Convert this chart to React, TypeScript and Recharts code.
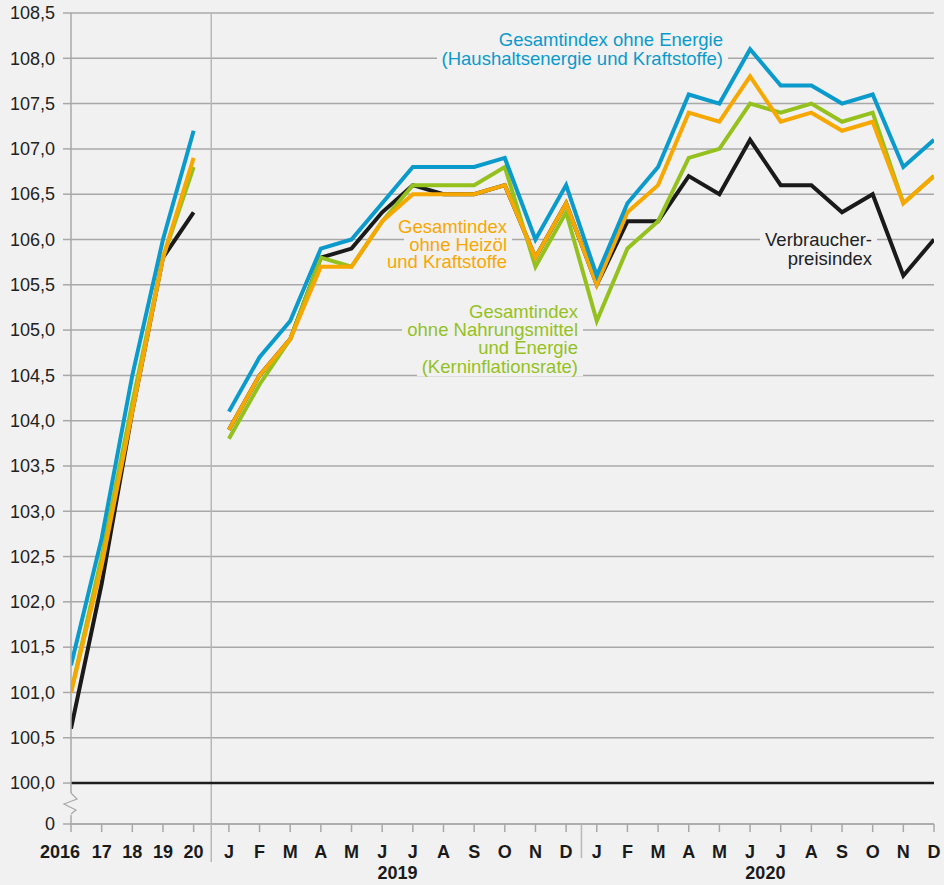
import React from "react";
import { CartesianGrid, Line, LineChart, ReferenceLine, XAxis, YAxis } from "recharts";

const years = ["2016", "17", "18", "19", "20"];
const months = ["J", "F", "M", "A", "M", "J", "J", "A", "S", "O", "N", "D"];
const monthYears = ["2019", "2020"];

// Jahresdurchschnitte 2016-2020
const vpiYear = [100.6, 102.2, 104.1, 105.8, 106.3];
const kernYear = [101.0, 102.5, 104.2, 105.8, 106.8];
const heizYear = [101.0, 102.4, 104.1, 105.8, 106.9];
const energieYear = [101.3, 102.7, 104.5, 106.0, 107.2];

// Monatswerte Jan 2019 - Dez 2020
const vpiMonth = [
  103.9, 104.5, 104.9, 105.8, 105.9, 106.3, 106.6, 106.5, 106.5, 106.6, 105.8, 106.4,
  105.5, 106.2, 106.2, 106.7, 106.5, 107.1, 106.6, 106.6, 106.3, 106.5, 105.6, 106.0,
];
const kernMonth = [
  103.8, 104.4, 104.9, 105.8, 105.7, 106.2, 106.6, 106.6, 106.6, 106.8, 105.7, 106.3,
  105.1, 105.9, 106.2, 106.9, 107.0, 107.5, 107.4, 107.5, 107.3, 107.4, 106.4, 106.7,
];
const heizMonth = [
  103.9, 104.5, 104.9, 105.7, 105.7, 106.2, 106.5, 106.5, 106.5, 106.6, 105.8, 106.4,
  105.5, 106.3, 106.6, 107.4, 107.3, 107.8, 107.3, 107.4, 107.2, 107.3, 106.4, 106.7,
];
const energieMonth = [
  104.1, 104.7, 105.1, 105.9, 106.0, 106.4, 106.8, 106.8, 106.8, 106.9, 106.0, 106.6,
  105.6, 106.4, 106.8, 107.6, 107.5, 108.1, 107.7, 107.7, 107.5, 107.6, 106.8, 107.1,
];

const yTicks = [
  100, 100.5, 101, 101.5, 102, 102.5, 103, 103.5, 104, 104.5, 105, 105.5, 106, 106.5,
  107, 107.5, 108, 108.5,
];
const breakLabel = "0";

const FONT = '"Liberation Sans", Arial, sans-serif';
const BG = "#f1f1f1";
const GRID = "#a8a8a8";
const SEP = "#b8b8b8";
const C_VPI = "#1a1a1a";
const C_KERN = "#95c11f";
const C_HEIZ = "#f7a800";
const C_ENERGIE = "#0a9acb";

// Achsenbruch: "0" sitzt knapp unter 100
const Y_MIN = 99.548;
const MONTH_START = 5.15;
const X_MAX = MONTH_START + 23;
const SEP1 = (4 + MONTH_START) / 2;
const SEP2 = MONTH_START + 11.5;

const annualRows = years.map((label, i) => ({
  x: i,
  label,
  vpi: vpiYear[i],
  kern: kernYear[i],
  heiz: heizYear[i],
  energie: energieYear[i],
}));

const monthlyRows = vpiMonth.map((_, i) => ({
  x: MONTH_START + i,
  label: months[i % 12],
  vpi: vpiMonth[i],
  kern: kernMonth[i],
  heiz: heizMonth[i],
  energie: energieMonth[i],
}));

type XT = { v: number; label?: string; kind: "tick" | "sep" | "year"; len?: number };

const xTicks: XT[] = [
  ...annualRows.map((r) => ({ v: r.x, label: r.label, kind: "tick" as const })),
  ...monthlyRows.map((r) => ({ v: r.x, label: r.label, kind: "tick" as const })),
  { v: SEP1, kind: "sep", len: 38 },
  { v: SEP2, kind: "sep", len: 34 },
  ...monthYears.map((y, i) => ({ v: MONTH_START + i * 12 + 5.5, label: y, kind: "year" as const })),
];

function XTick(props: any) {
  const { x, y, payload } = props;
  const t = xTicks.find((d) => Math.abs(d.v - payload.value) < 1e-6);
  if (!t) return null;
  if (t.kind === "sep") {
    return <line x1={x} x2={x} y1={y} y2={y + (t.len || 0)} stroke={SEP} strokeWidth={1.5} />;
  }
  if (t.kind === "year") {
    return (
      <text x={x} y={y + 49} dy="0.35em" textAnchor="middle" fontFamily={FONT} fontSize={18} fontWeight="bold" fill="#1a1a1a">
        {t.label}
      </text>
    );
  }
  // erstes Jahr steht links vom Tick, damit es nicht mit "17" kollidiert
  const first = payload.value === 0;
  return (
    <g>
      <line x1={x} x2={x} y1={y} y2={y + 8} stroke={GRID} strokeWidth={1.5} />
      <text
        x={first ? x + 9 : x}
        y={y + 28}
        dy="0.35em"
        textAnchor={first ? "end" : "middle"}
        fontFamily={FONT}
        fontSize={18}
        fontWeight="bold"
        fill="#1a1a1a"
      >
        {t.label}
      </text>
    </g>
  );
}

function YTick(props: any) {
  const { x, y, payload } = props;
  const isBreak = Math.abs(payload.value - Y_MIN) < 1e-6;
  const label = isBreak ? breakLabel : payload.value.toFixed(1).replace(".", ",");
  const ax = x + 16;
  return (
    <g>
      {isBreak && (
        <g>
          <rect x={ax - 2} y={y - 31} width={4} height={22} fill={BG} />
          <polyline
            points={`${ax},${y - 31} ${ax + 6},${y - 25} ${ax - 7},${y - 20} ${ax + 5},${y - 14} ${ax},${y - 10}`}
            fill="none"
            stroke={GRID}
            strokeWidth={1.2}
          />
        </g>
      )}
      <text x={x} y={y} dy="0.35em" textAnchor="end" fontFamily={FONT} fontSize={18} fill="#222">
        {label}
      </text>
    </g>
  );
}

type LabelProps = { lines: string[]; color: string; right: number; top: number; lh: number };

// Hintergrund je Zeile unterbricht die Gitterlinien; obere Zeilen liegen oben,
// damit Unterlängen nicht vom nächsten Zeilenhintergrund verdeckt werden
function Label({ lines, color, right, top, lh }: LabelProps) {
  return (
    <div
      style={{
        position: "absolute",
        right,
        top,
        textAlign: "right",
        color,
        fontFamily: FONT,
        fontSize: 18.5,
        lineHeight: `${lh}px`,
        whiteSpace: "nowrap",
      }}
    >
      {lines.map((l, i) => (
        <div key={i} style={{ position: "relative", zIndex: lines.length - i, height: lh }}>
          <span
            style={{
              display: "inline-block",
              height: lh,
              lineHeight: `${lh}px`,
              background: BG,
              padding: "0 5px",
            }}
          >
            {l}
          </span>
        </div>
      ))}
    </div>
  );
}

const series = [
  { key: "vpi", color: C_VPI },
  { key: "kern", color: C_KERN },
  { key: "heiz", color: C_HEIZ },
  { key: "energie", color: C_ENERGIE },
];

export default function App() {
  return (
    <div style={{ position: "relative", width: 944, height: 885, background: BG, fontFamily: FONT }}>
      <style>{`body{margin:0}`}</style>
      <LineChart width={944} height={885} margin={{ top: 13, right: 10, bottom: 0, left: 0 }}>
        <CartesianGrid vertical={false} stroke={GRID} strokeWidth={1.5} />
        <XAxis
          type="number"
          dataKey="x"
          domain={[0, X_MAX]}
          ticks={xTicks.map((t) => t.v)}
          interval={0}
          height={61}
          tickLine={false}
          tickSize={0}
          tickMargin={0}
          axisLine={{ stroke: GRID, strokeWidth: 1.5 }}
          tick={(p: any) => <XTick {...p} />}
          allowDataOverflow
        />
        <YAxis
          type="number"
          domain={[Y_MIN, 108.5]}
          ticks={[Y_MIN, ...yTicks]}
          interval={0}
          width={71}
          tickSize={8}
          tickMargin={8}
          tickLine={{ stroke: GRID, strokeWidth: 1.5 }}
          axisLine={{ stroke: GRID, strokeWidth: 1.5 }}
          tick={(p: any) => <YTick {...p} />}
          allowDataOverflow
        />
        <ReferenceLine x={SEP1} stroke={SEP} strokeWidth={1.5} />
        <ReferenceLine y={100} stroke="#1d1d1d" strokeWidth={2.5} />
        {series.map((s) => (
          <Line
            key={s.key + "-y"}
            data={annualRows}
            dataKey={s.key}
            stroke={s.color}
            strokeWidth={4}
            dot={false}
            activeDot={false}
            type="linear"
            isAnimationActive={false}
          />
        ))}
        {series.map((s) => (
          <Line
            key={s.key + "-m"}
            data={monthlyRows}
            dataKey={s.key}
            stroke={s.color}
            strokeWidth={4}
            dot={false}
            activeDot={false}
            type="linear"
            isAnimationActive={false}
          />
        ))}
      </LineChart>
      <Label
        lines={["Gesamtindex ohne Energie", "(Haushaltsenergie und Kraftstoffe)"]}
        color={C_ENERGIE}
        right={216}
        top={31}
        lh={18.5}
      />
      <Label lines={["Gesamtindex", "ohne Heizöl", "und Kraftstoffe"]} color={C_HEIZ} right={432} top={218} lh={17.5} />
      <Label
        lines={["Gesamtindex", "ohne Nahrungsmittel", "und Energie", "(Kerninflationsrate)"]}
        color={C_KERN}
        right={361}
        top={303}
        lh={18.2}
      />
      <Label lines={["Verbraucher-", "preisindex"]} color="#222" right={67} top={230} lh={19} />
    </div>
  );
}
